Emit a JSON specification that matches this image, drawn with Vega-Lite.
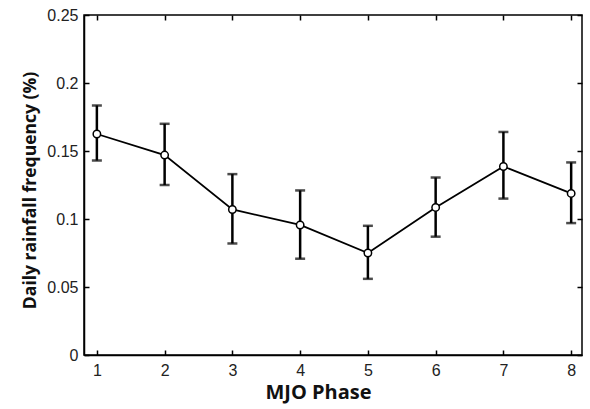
{
  "$schema": "https://vega.github.io/schema/vega-lite/v6.json",
  "width": 498,
  "height": 340,
  "autosize": {"type": "none"},
  "padding": {"left": 84, "top": 15, "right": 8, "bottom": 54},
  "background": "white",
  "config": {
    "view": {"stroke": "black", "strokeWidth": 1.5},
    "axis": {
      "labelFont": "Liberation Sans",
      "labelFontSize": 16,
      "labelColor": "#222",
      "titleFont": "Open Sans",
      "titleFontWeight": "bold",
      "titleColor": "#111",
      "domainColor": "black",
      "domainWidth": 1.5,
      "tickColor": "black",
      "tickWidth": 1.5,
      "tickSize": -5,
      "grid": false
    }
  },
  "data": {
    "values": [
      {"phase": 1, "freq": 0.1625, "lo": 0.143, "hi": 0.1835},
      {"phase": 2, "freq": 0.147, "lo": 0.125, "hi": 0.170},
      {"phase": 3, "freq": 0.107, "lo": 0.082, "hi": 0.133},
      {"phase": 4, "freq": 0.0956, "lo": 0.0708, "hi": 0.121},
      {"phase": 5, "freq": 0.075, "lo": 0.056, "hi": 0.095},
      {"phase": 6, "freq": 0.1085, "lo": 0.087, "hi": 0.1305},
      {"phase": 7, "freq": 0.1386, "lo": 0.115, "hi": 0.164},
      {"phase": 8, "freq": 0.1188, "lo": 0.097, "hi": 0.1416}
    ]
  },
  "resolve": {"axis": {"x": "independent", "y": "independent"}},
  "layer": [
    {
      "mark": {"type": "rule", "strokeWidth": 2.5, "color": "black"},
      "encoding": {
        "x": {
          "field": "phase", "type": "quantitative",
          "scale": {"domain": [0.81, 8.16], "nice": false, "zero": false},
          "axis": {"orient": "bottom", "values": [1,2,3,4,5,6,7,8], "title": "MJO Phase", "titleFontSize": 20,
                   "labelFontSize": 16, "labelFont": "Liberation Sans",
                   "labelPadding": 12, "titlePadding": 4, "titleX": 234}
        },
        "y": {"field": "lo", "type": "quantitative",
              "scale": {"domain": [0, 0.25], "nice": false},
              "axis": {"orient": "left", "values": [0, 0.05, 0.1, 0.15, 0.2, 0.25], "format": "~g",
                       "title": "Daily rainfall frequency (%)",
                       "labelFontSize": 16, "labelFont": "Liberation Sans",
                       "titleFontSize": 17.5, "labelPadding": 11, "titlePadding": 7, "titleY": 175}},
        "y2": {"field": "hi"}
      }
    },
    {
      "mark": {"type": "tick", "orient": "horizontal", "size": 10, "thickness": 2.5, "color": "black"},
      "encoding": {
        "x": {"field": "phase", "type": "quantitative", "axis": null},
        "y": {"field": "lo", "type": "quantitative", "axis": null}
      }
    },
    {
      "mark": {"type": "tick", "orient": "horizontal", "size": 10, "thickness": 2.5, "color": "black"},
      "encoding": {
        "x": {"field": "phase", "type": "quantitative", "axis": null},
        "y": {"field": "hi", "type": "quantitative", "axis": null}
      }
    },
    {
      "mark": {"type": "line", "strokeWidth": 1.8, "color": "black"},
      "encoding": {
        "x": {"field": "phase", "type": "quantitative",
              "axis": {"orient": "top", "values": [1,2,3,4,5,6,7,8], "labels": false, "title": null, "domain": false}},
        "y": {"field": "freq", "type": "quantitative",
              "axis": {"orient": "right", "values": [0, 0.05, 0.1, 0.15, 0.2, 0.25], "labels": false, "title": null, "domain": false}}
      }
    },
    {
      "mark": {"type": "point", "shape": "circle", "filled": true, "fill": "white", "stroke": "black", "strokeWidth": 1.5, "size": 55, "opacity": 1},
      "encoding": {
        "x": {"field": "phase", "type": "quantitative", "axis": null},
        "y": {"field": "freq", "type": "quantitative", "axis": null}
      }
    }
  ]
}
